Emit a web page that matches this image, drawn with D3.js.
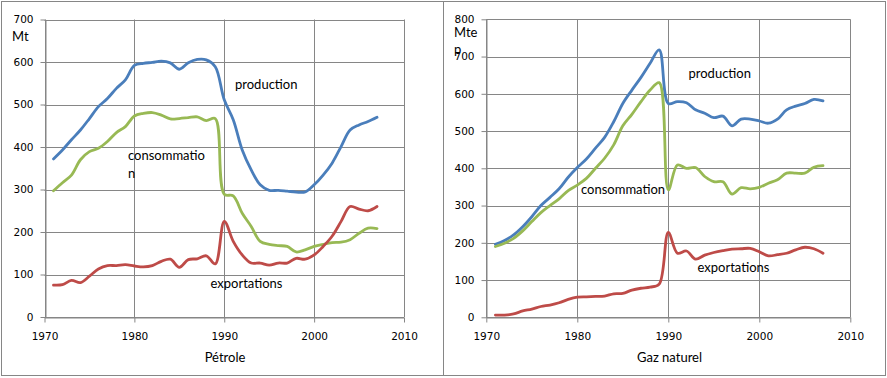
<!DOCTYPE html>
<html><head><meta charset="utf-8">
<script src="https://cdn.jsdelivr.net/npm/d3@7"></script>
<style>
html,body{margin:0;padding:0;background:#fff;}
svg{display:block;}
.lbl{font-family:Lato,"Open Sans",sans-serif;font-size:13px;fill:#000;}
.tick text{font-family:"DejaVu Sans",sans-serif;font-size:10.5px;fill:#000;}
</style></head>
<body>
<svg id="c" width="887" height="378"></svg>
<script>
const years = [1971,1972,1973,1974,1975,1976,1977,1978,1979,1980,1981,1982,1983,1984,1985,1986,1987,1988,1989,1990,1991,1992,1993,1994,1995,1996,1997,1998,1999,2000,2001,2002,2003,2004,2005,2006,2007];

// Pétrole (Mt)
const oilProduction = [372,393,417,440,467,495,514,538,558,592,597,599,602,598,583,598,606,605,589,511,464,393,346,311,298,298,296,294,294,311,334,362,401,440,452,460,470];
const oilConsumption = [297,316,334,370,389,397,413,434,448,473,479,481,475,466,467,469,471,462,467,289,285,244,213,178,171,168,166,153,158,166,171,175,176,182,197,209,208];
const oilExports = [75,76,86,81,96,113,121,121,123,120,118,121,131,136,117,135,137,144,125,225,178,146,127,127,122,127,127,138,136,146,166,190,225,260,254,250,260];

// Gaz naturel (Mtep)
const gasProduction = [196,206,221,243,270,300,322,345,376,402,425,454,483,525,574,610,644,682,718,574,579,576,557,548,536,540,514,532,532,527,521,532,557,567,574,585,581];
const gasConsumption = [190,199,212,232,257,281,300,318,340,355,373,400,427,463,514,545,579,610,630,342,409,400,402,378,364,364,331,348,345,349,360,369,387,387,387,403,407];
const gasExports = [6,6,9,17,22,29,33,39,48,54,55,56,57,63,64,73,78,81,89,228,172,178,156,167,174,179,183,184,185,176,165,168,172,181,188,184,172];

const xTicks = [1970,1980,1990,2000,2010];
const oilYTicks = [0,100,200,300,400,500,600,700];
const gasYTicks = [0,100,200,300,400,500,600,700,800];

const colors = {production:"#4A7EBB", consommation:"#98B954", exportations:"#BE4B48"};
const grid = "#868686";

const svg = d3.select("#c");

function panel(opt){
  const g = svg.append("g");
  g.append("rect").attr("x",opt.box[0]+0.5).attr("y",1.5).attr("width",opt.box[1]-opt.box[0]).attr("height",374)
    .attr("fill","none").attr("stroke",grid).attr("stroke-width",1);
  const x = d3.scaleLinear().domain([1970,2010]).range([opt.left,opt.right]);
  const y = d3.scaleLinear().domain([0,opt.ymax]).range([opt.bottom,opt.top]);
  g.append("g").selectAll("line.h").data(opt.yTicks).join("line")
    .attr("x1",opt.left).attr("x2",opt.right)
    .attr("y1",d=>Math.round(y(d))+0.5).attr("y2",d=>Math.round(y(d))+0.5)
    .attr("stroke",grid).attr("stroke-width",1);
  g.append("g").selectAll("line.v").data(xTicks).join("line")
    .attr("x1",d=>Math.round(x(d))+0.5).attr("x2",d=>Math.round(x(d))+0.5)
    .attr("y1",opt.top).attr("y2",opt.bottom)
    .attr("stroke",grid).attr("stroke-width",1);
  const ax = g.append("g").attr("transform",`translate(0,${Math.round(opt.bottom)+0.5})`)
    .call(d3.axisBottom(x).tickValues(xTicks).tickFormat(d3.format("d")).tickSize(5).tickSizeOuter(0).tickPadding(10));
  const ay = g.append("g").attr("transform",`translate(${Math.round(opt.left)+0.5},0)`)
    .call(d3.axisLeft(y).tickValues(opt.yTicks).tickSize(5).tickSizeOuter(0).tickPadding(7));
  [ax,ay].forEach(a=>{a.select(".domain").attr("stroke",grid);a.selectAll(".tick line").attr("stroke",grid);});
  const line = d3.line().x((d,i)=>x(years[i])).y(d=>y(d)).curve(d3.curveCatmullRom.alpha(0.5));
  opt.series.forEach(s=>{
    g.append("path").datum(s.values).attr("d",line).attr("fill","none")
      .attr("stroke",colors[s.name]).attr("stroke-width",2.8).attr("stroke-linejoin","round").attr("stroke-linecap","round");
  });
  opt.labels.forEach(l=>{
    g.append("text").attr("class","lbl").attr("x",l[1]).attr("y",l[2]).attr("dominant-baseline","central").text(l[0]);
  });
  g.append("text").attr("class","lbl").attr("x",opt.titleX).attr("y",357).attr("text-anchor","middle").attr("dominant-baseline","central").text(opt.title);
}

panel({
  box:[1,443], left:44.5, right:404, top:19.5, bottom:317, ymax:700, yTicks:oilYTicks,
  series:[{name:"production",values:oilProduction},{name:"consommation",values:oilConsumption},{name:"exportations",values:oilExports}],
  labels:[["Mt",12,36],["production",235,84],["consommatio",128,155],["n",128,173],["exportations",210.5,283]],
  title:"Pétrole", titleX:225
});
panel({
  box:[443,885], left:486.3, right:850.3, top:19.3, bottom:317.3, ymax:800, yTicks:gasYTicks,
  series:[{name:"production",values:gasProduction},{name:"consommation",values:gasConsumption},{name:"exportations",values:gasExports}],
  labels:[["Mte",454,32],["p",454,49],["production",688.5,72.5],["consommation",581,189],["exportations",697.5,266.5]],
  title:"Gaz naturel", titleX:669.5
});
</script>
</body></html>
